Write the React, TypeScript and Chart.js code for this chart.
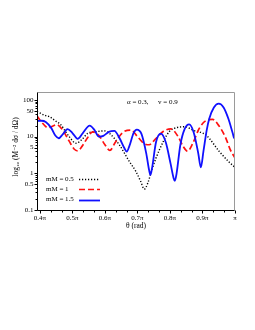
import React, { useEffect, useRef } from 'react';
import { Chart, registerables } from 'chart.js';
Chart.register(...registerables);

// theta in units of pi, values of M^-2 dσ/dΩ
const thetaBlack = [0.391,0.415,0.429,0.450,0.465,0.478,0.490,0.511,0.530,0.547,0.570,0.598,0.615,0.644,0.675,0.695,0.710,0.721,0.732,0.745,0.757,0.780,0.798,0.820,0.848,0.870,0.911,0.952,0.980,1.0];
const valBlack = [48,38,34.8,26,20.7,14,10,6.6,8.5,12.3,13.5,14.3,12,6,2.1,1.13,0.6,0.37,0.55,1.3,2.6,7.5,13.7,17.5,18.5,15,11,3.9,2.1,1.45];

const thetaRed = [0.391,0.405,0.425,0.452,0.468,0.490,0.505,0.516,0.530,0.547,0.562,0.580,0.600,0.615,0.632,0.655,0.680,0.700,0.720,0.736,0.755,0.780,0.803,0.825,0.840,0.854,0.870,0.890,0.910,0.931,0.950,0.972,0.985,1.0];
const valRed = [37,25,17.5,21,16,7.5,4.6,4.1,5.5,9.5,13.5,11,6,4.2,7,13,15,10,6.5,6,8.5,14,16.3,10,5.5,4.0,6.5,16.7,27,29.5,20,9,4.5,2.6];

const thetaBlue = [0.391,0.405,0.418,0.435,0.448,0.458,0.470,0.485,0.500,0.516,0.532,0.553,0.568,0.581,0.595,0.612,0.629,0.645,0.660,0.667,0.675,0.688,0.698,0.712,0.727,0.736,0.740,0.745,0.757,0.772,0.787,0.802,0.811,0.815,0.820,0.832,0.845,0.859,0.873,0.887,0.895,0.903,0.913,0.921,0.935,0.950,0.965,0.980,0.993,0.998,1.0];
const valBlue = [26.5,27,25,17,10.5,9.0,11.5,16,12.5,8.7,12.5,19.8,15,10,10.5,13.5,14.3,9,4.8,3.9,5.5,12.5,15.5,12,3.5,1.2,0.9,1.4,7,12,7,1.8,0.75,0.62,0.95,6,16,21.5,13,3.5,1.45,4,15,31,62,79,62,30,12.3,9,10];

const xMajor = [0.4,0.5,0.6,0.7,0.8,0.9,1.0];
const xTickLabels = ['0.4π','0.5π','0.6π','0.7π','0.8π','0.9π','π'];
const xMinor = [0.4333,0.4667,0.5333,0.5667,0.6333,0.6667,0.7333,0.7667,0.8333,0.8667,0.9333,0.9667];
const yMajor = [0.1,0.5,1,5,10,50,100];
const yTickLabels = ['0.1','0.5','1','5','10','50','100'];
const yMinor = [0.2,0.3,0.4,0.6,0.7,0.8,0.9,2,3,4,6,7,8,9,20,30,40,60,70,80,90];
const seriesLabels = ['mM = 0.5','mM = 1','mM = 1.5'];
const xTitle = 'θ (rad)';
const yTitle = 'log₁₀ (M⁻² dσ / dΩ)';
const annotationLeft = 'α = 0.3,';
const annotationRight = 'v = 0.9';

const FONT = '"Liberation Serif", "DejaVu Serif", serif';
const colors = ['#000000', '#ff1010', '#1010ff'];
const dashes = [[1.2, 1.8], [6, 3], []];
const widths = [1.4, 1.7, 1.8];

const decor = {
  id: 'decor',
  afterDraw(chart: any) {
    const { ctx, chartArea: a, scales } = chart;
    const xs = scales.x, ys = scales.y;
    const L = Math.round(a.left) + 0.5, R = Math.round(a.right) - 0.5;
    const T = Math.round(a.top) + 0.5, B = Math.round(a.bottom) + 0.5;
    ctx.save();
    ctx.lineWidth = 1;
    ctx.strokeStyle = '#9a9a9a';
    ctx.beginPath();
    ctx.moveTo(L, T); ctx.lineTo(R, T); ctx.lineTo(R, B);
    ctx.stroke();
    ctx.strokeStyle = '#000';
    ctx.beginPath();
    ctx.moveTo(L, T); ctx.lineTo(L, B); ctx.lineTo(R, B);
    ctx.stroke();
    ctx.beginPath();
    xMajor.forEach((v) => { const p = Math.round(xs.getPixelForValue(v)) + 0.5; ctx.moveTo(p, B); ctx.lineTo(p, B + 3); });
    xMinor.forEach((v) => { const p = Math.round(xs.getPixelForValue(v)) + 0.5; ctx.moveTo(p, B); ctx.lineTo(p, B + 2); });
    yMajor.forEach((v) => { const p = Math.round(ys.getPixelForValue(v)) + 0.5; ctx.moveTo(L, p); ctx.lineTo(L - 3, p); });
    yMinor.forEach((v) => { const p = Math.round(ys.getPixelForValue(v)) + 0.5; ctx.moveTo(L, p); ctx.lineTo(L - 2, p); });
    ctx.stroke();
    ctx.fillStyle = '#000';
    ctx.font = `7px ${FONT}`;
    ctx.textAlign = 'center';
    ctx.textBaseline = 'top';
    xMajor.forEach((v, i) => ctx.fillText(xTickLabels[i], xs.getPixelForValue(v), B + 4));
    ctx.textAlign = 'right';
    ctx.textBaseline = 'middle';
    yMajor.forEach((v, i) => ctx.fillText(yTickLabels[i], L - 4, ys.getPixelForValue(v)));
    ctx.font = `7.5px ${FONT}`;
    ctx.textAlign = 'center';
    ctx.fillText(xTitle, 136, 226);
    ctx.save();
    ctx.translate(16, 147);
    ctx.rotate(-Math.PI / 2);
    ctx.fillText(yTitle, 0, 0);
    ctx.restore();
    ctx.font = `7px ${FONT}`;
    ctx.textAlign = 'left';
    ctx.fillText(annotationLeft, 127, 102);
    ctx.fillText(annotationRight, 158, 102);
    seriesLabels.forEach((s, i) => {
      const y = 179 + i * 10.3;
      ctx.fillStyle = '#000';
      ctx.fillText(s, 46, y);
      ctx.strokeStyle = colors[i];
      ctx.lineWidth = widths[i];
      ctx.setLineDash(dashes[i]);
      ctx.beginPath();
      ctx.moveTo(79, Math.round(y) + 0.5);
      ctx.lineTo(100, Math.round(y) + 0.5);
      ctx.stroke();
    });
    ctx.setLineDash([]);
    ctx.restore();
  },
};

export default function App() {
  const ref = useRef<HTMLCanvasElement>(null);
  useEffect(() => {
    if (!ref.current) return;
    const mk = (t: number[], v: number[]) => t.map((x, i) => ({ x, y: v[i] }));
    const chart = new Chart(ref.current, {
      type: 'line',
      data: {
        datasets: [
          { label: seriesLabels[2], data: mk(thetaBlue, valBlue), borderColor: colors[2], borderWidth: widths[2], borderDash: dashes[2], pointRadius: 0, cubicInterpolationMode: 'monotone', fill: false, order: 0 },
          { label: seriesLabels[1], data: mk(thetaRed, valRed), borderColor: colors[1], borderWidth: widths[1], borderDash: dashes[1], pointRadius: 0, cubicInterpolationMode: 'monotone', fill: false, order: 1 },
          { label: seriesLabels[0], data: mk(thetaBlack, valBlack), borderColor: colors[0], borderWidth: widths[0], borderDash: dashes[0], pointRadius: 0, cubicInterpolationMode: 'monotone', fill: false, order: 2 },
        ],
      } as any,
      options: {
        animation: false,
        responsive: false,
        devicePixelRatio: 1,
        layout: { padding: { left: 37, top: 92, right: 20, bottom: 120 } },
        plugins: { legend: { display: false }, tooltip: { enabled: false } },
        scales: {
          x: { type: 'linear', min: 0.391, max: 1.0, display: false },
          y: { type: 'logarithmic', min: 0.1, max: 164, display: false },
        },
      },
      plugins: [decor],
    });
    return () => chart.destroy();
  }, []);
  return (
    <div style={{ position: 'absolute', left: 0, top: 0, width: 255, height: 330, background: '#fff' }}>
      <canvas ref={ref} width={255} height={330} style={{ display: 'block' }} />
    </div>
  );
}
